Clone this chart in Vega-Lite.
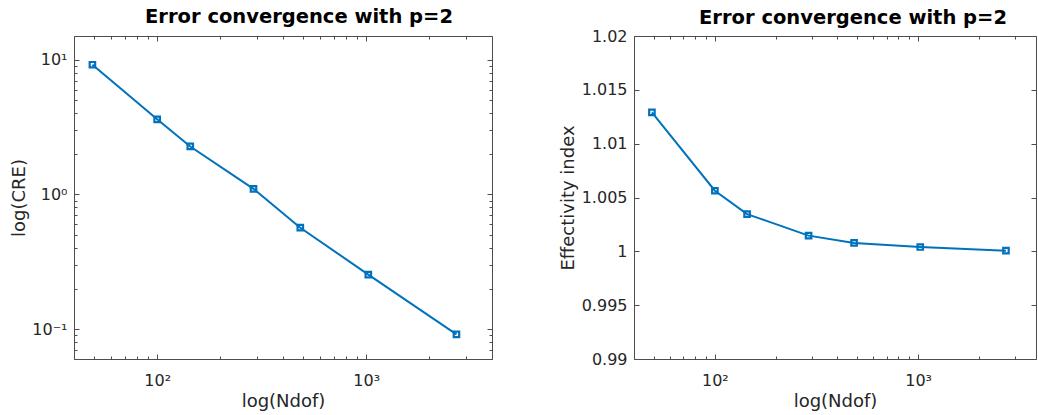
{
  "$schema": "https://vega.github.io/schema/vega-lite/v6.json",
  "padding": {"left": 10, "top": 6, "right": 0, "bottom": 0},
  "spacing": 65,
  "config": {
    "font": "DejaVu Sans",
    "view": {"stroke": "#4d4d4d", "strokeWidth": 1},
    "axis": {
      "domain": false, "grid": false,
      "tickColor": "#4d4d4d", "tickWidth": 1,
      "labelColor": "#262626", "titleColor": "#262626",
      "labelFont": "DejaVu Sans", "titleFont": "DejaVu Sans",
      "labelFontSize": 16, "titleFontSize": 18, "titleFontWeight": "normal"
    },
    "title": {"font": "DejaVu Sans", "fontSize": 19.5, "fontWeight": "bold", "color": "#000000", "frame": "group"}
  },
  "datasets": {
    "d": [
      {"ndof": 49, "cre": 9.18, "eff": 1.0129},
      {"ndof": 100, "cre": 3.61, "eff": 1.00563},
      {"ndof": 144, "cre": 2.27, "eff": 1.00346},
      {"ndof": 289, "cre": 1.10, "eff": 1.00146},
      {"ndof": 484, "cre": 0.566, "eff": 1.00078},
      {"ndof": 1024, "cre": 0.254, "eff": 1.0004},
      {"ndof": 2704, "cre": 0.0914, "eff": 1.00006}
    ]
  },
  "hconcat": [
    {
      "width": 418, "height": 323,
      "title": {"text": "Error convergence with p=2", "offset": 8, "frame": "group", "dx": 16},
      "data": {"name": "d"},
      "layer": [
        {
          "mark": {"type": "line", "color": "#0072BD", "strokeWidth": 2},
          "encoding": {
            "x": {"field": "ndof", "type": "quantitative",
              "scale": {"type": "log", "domain": [40, 4000], "nice": false},
              "axis": {"orient": "bottom",
                "values": [40, 50, 60, 70, 80, 90, 100, 200, 300, 400, 500, 600, 700, 800, 900, 1000, 2000, 3000, 4000],
                "labelExpr": "datum.value == 100 ? '10²' : datum.value == 1000 ? '10³' : ''",
                "tickSize": {"condition": {"test": "datum.value == 100 || datum.value == 1000", "value": -5}, "value": -3},
                "labelPadding": 18, "title": "log(Ndof)", "titlePadding": 4}},
            "y": {"field": "cre", "type": "quantitative",
              "scale": {"type": "log", "domain": [0.06, 15], "nice": false},
              "axis": {"orient": "left",
                "values": [0.06, 0.07, 0.08, 0.09, 0.1, 0.2, 0.3, 0.4, 0.5, 0.6, 0.7, 0.8, 0.9, 1, 2, 3, 4, 5, 6, 7, 8, 9, 10],
                "labelExpr": "datum.value == 0.1 ? '10⁻¹' : datum.value == 1 ? '10⁰' : datum.value == 10 ? '10¹' : ''",
                "tickSize": {"condition": {"test": "datum.value == 0.1 || datum.value == 1 || datum.value == 10", "value": -5}, "value": -3},
                "labelPadding": 12, "title": "log(CRE)", "titlePadding": 3}}
          }
        },
        {
          "mark": {"type": "point", "shape": "square", "size": 30, "filled": false, "color": "#0072BD", "strokeWidth": 2.2, "opacity": 1},
          "encoding": {
            "x": {"field": "ndof", "type": "quantitative",
              "scale": {"type": "log", "domain": [40, 4000], "nice": false},
              "axis": {"orient": "top", "labels": false, "title": null,
                "values": [40, 50, 60, 70, 80, 90, 100, 200, 300, 400, 500, 600, 700, 800, 900, 1000, 2000, 3000, 4000],
                "tickSize": {"condition": {"test": "datum.value == 100 || datum.value == 1000", "value": -5}, "value": -3}}},
            "y": {"field": "cre", "type": "quantitative",
              "scale": {"type": "log", "domain": [0.06, 15], "nice": false},
              "axis": {"orient": "right", "labels": false, "title": null,
                "values": [0.06, 0.07, 0.08, 0.09, 0.1, 0.2, 0.3, 0.4, 0.5, 0.6, 0.7, 0.8, 0.9, 1, 2, 3, 4, 5, 6, 7, 8, 9, 10],
                "tickSize": {"condition": {"test": "datum.value == 0.1 || datum.value == 1 || datum.value == 10", "value": -5}, "value": -3}}}
          }
        }
      ],
      "resolve": {"axis": {"x": "independent", "y": "independent"}}
    },
    {
      "width": 402, "height": 323,
      "title": {"text": "Error convergence with p=2", "offset": 0, "frame": "group", "dx": 18},
      "data": {"name": "d"},
      "layer": [
        {
          "mark": {"type": "line", "color": "#0072BD", "strokeWidth": 2},
          "encoding": {
            "x": {"field": "ndof", "type": "quantitative",
              "scale": {"type": "log", "domain": [40, 3800], "nice": false},
              "axis": {"orient": "bottom",
                "values": [40, 50, 60, 70, 80, 90, 100, 200, 300, 400, 500, 600, 700, 800, 900, 1000, 2000, 3000],
                "labelExpr": "datum.value == 100 ? '10²' : datum.value == 1000 ? '10³' : ''",
                "tickSize": {"condition": {"test": "datum.value == 100 || datum.value == 1000", "value": -5}, "value": -3},
                "labelPadding": 18, "title": "log(Ndof)", "titlePadding": 4}},
            "y": {"field": "eff", "type": "quantitative",
              "scale": {"domain": [0.99, 1.02], "nice": false, "zero": false},
              "axis": {"orient": "left",
                "values": [0.99, 0.995, 1, 1.005, 1.01, 1.015, 1.02],
                "format": ".3~f",
                "tickSize": -5,
                "labelPadding": 12, "title": "Effectivity index", "titlePadding": 4}}
          }
        },
        {
          "mark": {"type": "point", "shape": "square", "size": 30, "filled": false, "color": "#0072BD", "strokeWidth": 2.2, "opacity": 1},
          "encoding": {
            "x": {"field": "ndof", "type": "quantitative",
              "scale": {"type": "log", "domain": [40, 3800], "nice": false},
              "axis": {"orient": "top", "labels": false, "title": null,
                "values": [40, 50, 60, 70, 80, 90, 100, 200, 300, 400, 500, 600, 700, 800, 900, 1000, 2000, 3000],
                "tickSize": {"condition": {"test": "datum.value == 100 || datum.value == 1000", "value": -5}, "value": -3}}},
            "y": {"field": "eff", "type": "quantitative",
              "scale": {"domain": [0.99, 1.02], "nice": false, "zero": false},
              "axis": {"orient": "right", "labels": false, "title": null,
                "values": [0.99, 0.995, 1, 1.005, 1.01, 1.015, 1.02],
                "tickSize": -5}}
          }
        }
      ],
      "resolve": {"axis": {"x": "independent", "y": "independent"}}
    }
  ]
}
